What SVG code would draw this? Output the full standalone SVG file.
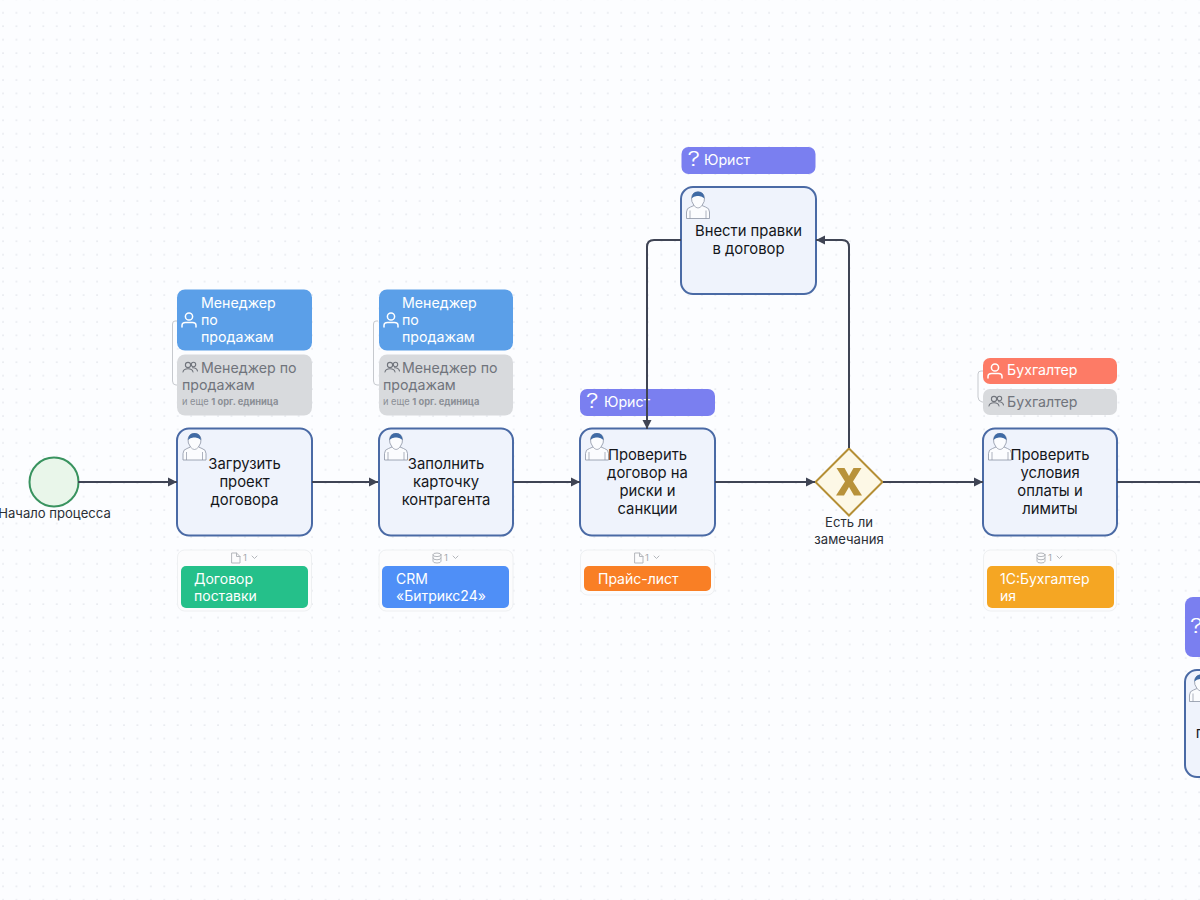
<svg xmlns="http://www.w3.org/2000/svg" width="1200" height="900" viewBox="0 0 1200 900">
<style>
text{font-family:Inter,"Noto Sans","Liberation Sans",sans-serif}
.task{fill:#eff3fc;stroke:#4a6aa5;stroke-width:2}
.lbl{font-size:14.8px;fill:#14161a;text-anchor:middle}
.small{font-size:13.1px;fill:#2b2f36;text-anchor:middle}
.role{font-size:14.2px;fill:#fff}
.grey{font-size:14.2px;fill:#70747c}
.tiny{font-size:9.3px;fill:#8b8f96}
.count{font-size:9.5px;fill:#a4a8ae}
.doc{font-size:14px;fill:#fff}
.line{fill:none;stroke:#3f4454;stroke-width:2;stroke-linejoin:round}
.link{fill:none;stroke:#c6c9ce;stroke-width:1}
.card{fill:#fcfcfd;stroke:#eef0f2;stroke-width:1}
.ico{fill:none;stroke:#fff;stroke-width:1.5;stroke-linecap:round}
.gico{fill:none;stroke:#70747c;stroke-width:1.1;stroke-linecap:round}
.cico{fill:none;stroke:#b4b7bc;stroke-width:1;stroke-linecap:round}
</style>
<defs>
<pattern id="dots" x="2" y="-1.700" width="13.44" height="13.44" patternUnits="userSpaceOnUse"><circle cx="1" cy="1" r="0.8" fill="#dfe2e8"/></pattern>
<marker id="arr" markerUnits="userSpaceOnUse" markerWidth="11" markerHeight="11" refX="10" refY="5.500" orient="auto"><path d="M1 1L10 5.500L1 10Z" fill="#3f4454"/></marker>
<g id="perf">
<path d="M0.500 27V20.500Q0.500 16.500 4.500 15.500L8 14Q5 10 5.500 6Q6.500 0.500 12 0.500Q17.500 0.500 18.500 6Q19 10 16 14L19.500 15.500Q23.500 16.500 23.500 20.500V27Z" fill="#fbfcfe" stroke="#8c93a3" stroke-width="0.8"/>
<path d="M5.500 7Q6 0 12 0Q18 0 18.500 7Q15.500 4 12 4.500Q8 4 5.500 7Z" fill="#3f6aa5"/>
<path d="M8 14Q12 19 16 14M4 19V27M20 19V27" fill="none" stroke="#8c93a3" stroke-width="0.7"/>
</g>
<g id="user" class="ico"><circle cx="8" cy="4.500" r="3.600"/><path d="M1 15V13.500Q1 10.500 4.500 10.500H11.500Q15 10.500 15 13.500V15"/></g>
<g id="users" class="gico"><circle cx="6" cy="4" r="2.600"/><circle cx="11.500" cy="3.500" r="2.200"/><path d="M1 11Q1.500 7.800 6 7.800Q10.500 7.800 11 11M10.500 6.800Q14.500 6.500 15.500 10"/></g>
<g id="q"><text transform="scale(1.25 1)" x="0" y="0" font-size="20" fill="#fff" font-weight="300">?</text></g>
<g id="filei" class="cico"><path d="M0 0H4.500L8 3.500V10H0ZM4.500 0V3.500H8"/></g>
<g id="dbi" class="cico"><ellipse cx="4" cy="1.800" rx="4" ry="1.800"/><path d="M0 1.800V8.200Q0 10 4 10Q8 10 8 8.200V1.800M0 5Q0 6.800 4 6.800Q8 6.800 8 5"/></g>
</defs>
<rect width="1200" height="900" fill="#fcfdff"/>
<rect width="1200" height="900" fill="url(#dots)"/>

<g id="start">
<circle cx="54" cy="482" r="24.500" fill="#e9f6ea" stroke="#39935f" stroke-width="2"/>
<text class="small" x="54.500" y="518">Начало процесса</text>
</g>

<g id="task-upload">
<path class="link" d="M177 321H175Q172.500 321 172.500 324V381Q172.500 385 176 385H178"/>
<rect x="177" y="289.500" width="135" height="61" rx="8" fill="#5b9fe8"/>
<use href="#user" x="181" y="312"/>
<text class="role" x="201" y="307.500">Менеджер</text><text class="role" x="201" y="324.500">по</text><text class="role" x="201" y="342">продажам</text>
<rect x="177" y="354.500" width="135" height="61" rx="8" fill="#d8dadd"/>
<use href="#users" x="182" y="361"/>
<text class="grey" x="201" y="373">Менеджер по</text><text class="grey" x="182" y="390">продажам</text>
<text class="tiny" x="182" y="405">и еще <tspan font-weight="700">1 орг. единица</tspan></text>
<rect class="task" x="177" y="428.500" width="135" height="107" rx="12"/>
<use href="#perf" x="182.500" y="433"/>
<text class="lbl" x="244.500" y="469">Загрузить</text><text class="lbl" x="244.500" y="487">проект</text><text class="lbl" x="244.500" y="505">договора</text>
<rect class="card" x="177.500" y="550" width="134" height="61" rx="7"/>
<use href="#filei" x="232" y="553"/>
<text class="count" x="243" y="561">1</text><path class="cico" d="M252 556L254.500 558.500L257 556"/>
<rect x="181" y="566" width="127" height="42" rx="5" fill="#25c08a"/>
<text class="doc" x="194" y="584">Договор</text><text class="doc" x="194" y="600.500">поставки</text>
</g>

<g id="task-card">
<path class="link" d="M378 321H376Q373.500 321 373.500 324V381Q373.500 385 377 385H379"/>
<rect x="379" y="289.500" width="134" height="61" rx="8" fill="#5b9fe8"/>
<use href="#user" x="383" y="312"/>
<text class="role" x="402" y="307.500">Менеджер</text><text class="role" x="402" y="324.500">по</text><text class="role" x="402" y="342">продажам</text>
<rect x="379" y="354.500" width="134" height="61" rx="8" fill="#d8dadd"/>
<use href="#users" x="384" y="361"/>
<text class="grey" x="402" y="373">Менеджер по</text><text class="grey" x="383" y="390">продажам</text>
<text class="tiny" x="383" y="405">и еще <tspan font-weight="700">1 орг. единица</tspan></text>
<rect class="task" x="379" y="428.500" width="134" height="107" rx="12"/>
<use href="#perf" x="384" y="433"/>
<text class="lbl" x="446" y="469">Заполнить</text><text class="lbl" x="446" y="487">карточку</text><text class="lbl" x="446" y="505">контрагента</text>
<rect class="card" x="379" y="550" width="134" height="61" rx="7"/>
<use href="#dbi" x="433" y="553"/>
<text class="count" x="444" y="561">1</text><path class="cico" d="M453 556L455.500 558.500L458 556"/>
<rect x="382" y="566" width="127" height="42" rx="5" fill="#4f8ff7"/>
<text class="doc" x="396" y="584">CRM</text><text class="doc" x="396" y="600.500">«Битрикс24»</text>
</g>

<g id="task-check">
<rect x="580" y="389" width="135" height="27" rx="7" fill="#7a7ff0"/>
<use href="#q" x="586" y="408"/>
<text class="role" x="604" y="407">Юрист</text>
<rect class="task" x="580" y="428.500" width="135" height="107" rx="12"/>
<use href="#perf" x="585" y="433"/>
<text class="lbl" x="647.500" y="460">Проверить</text><text class="lbl" x="647.500" y="478">договор на</text><text class="lbl" x="647.500" y="496">риски и</text><text class="lbl" x="647.500" y="514">санкции</text>
<rect class="card" x="580.500" y="550" width="134" height="45" rx="7"/>
<use href="#filei" x="635" y="553"/>
<text class="count" x="645" y="561">1</text><path class="cico" d="M654 556L656.500 558.500L659 556"/>
<rect x="584" y="566" width="127" height="25" rx="5" fill="#f97f25"/>
<text class="doc" x="598" y="584">Прайс-лист</text>
</g>

<g id="task-fix">
<rect x="681.500" y="147" width="134" height="27" rx="7" fill="#7a7ff0"/>
<use href="#q" x="687.500" y="166"/>
<text class="role" x="704" y="165">Юрист</text>
<rect class="task" x="681" y="187" width="135" height="107" rx="12"/>
<use href="#perf" x="686" y="191.500"/>
<text class="lbl" x="748.500" y="236">Внести правки</text><text class="lbl" x="748.500" y="254">в договор</text>
</g>

<g id="gateway">
<path d="M849 448.500L882.500 482L849 515.500L815.500 482Z" fill="#fdf8e6" stroke="#b58f35" stroke-width="2"/>
<path d="M836.500 468H844.500L849 476L853.500 468H861.500L853 481.500L862 495.500H854L849 487L844 495.500H836L845 481.500Z" fill="#b8923a"/>
<text class="small" x="849" y="527">Есть ли</text><text class="small" x="849" y="544">замечания</text>
</g>

<g id="task-limits">
<path class="link" d="M983 371H981Q978 371 978 374V397Q978 401 982 402H984"/>
<rect x="983" y="358" width="134" height="26" rx="7" fill="#fd7b66"/>
<use href="#user" x="987" y="363"/>
<text class="role" x="1007" y="375">Бухгалтер</text>
<rect x="983" y="389" width="134" height="26" rx="7" fill="#d8dadd"/>
<use href="#users" x="988" y="395"/>
<text class="grey" x="1007" y="407">Бухгалтер</text>
<rect class="task" x="983" y="428.500" width="134" height="107" rx="12"/>
<use href="#perf" x="988" y="433"/>
<text class="lbl" x="1050" y="460">Проверить</text><text class="lbl" x="1050" y="478">условия</text><text class="lbl" x="1050" y="496">оплаты и</text><text class="lbl" x="1050" y="514">лимиты</text>
<rect class="card" x="983.500" y="550" width="133" height="61" rx="7"/>
<use href="#dbi" x="1037" y="553"/>
<text class="count" x="1048" y="561">1</text><path class="cico" d="M1057 556L1059.500 558.500L1062 556"/>
<rect x="987" y="566" width="127" height="42" rx="5" fill="#f5a623"/>
<text class="doc" x="1000" y="584">1С:Бухгалтер</text><text class="doc" x="1000" y="600.500">ия</text>
</g>

<g id="task-next">
<rect x="1185" y="597" width="40" height="60" rx="8" fill="#7a7ff0"/>
<use href="#q" x="1190" y="633"/>
<rect class="task" x="1185" y="670" width="40" height="107" rx="12"/>
<use href="#perf" x="1189" y="674.500"/>
<text class="lbl" x="1200" y="738">п</text>
</g>

<g id="connectors">
<path class="line" d="M78 482H177" marker-end="url(#arr)"/>
<path class="line" d="M312 482H378" marker-end="url(#arr)"/>
<path class="line" d="M513 482H580" marker-end="url(#arr)"/>
<path class="line" d="M715 482H815" marker-end="url(#arr)"/>
<path class="line" d="M883 482H983" marker-end="url(#arr)"/>
<path class="line" d="M1117 482H1200"/>
<path class="line" d="M849 448V247Q849 240 842 240H816" marker-end="url(#arr)"/>
<path class="line" d="M681 240H654Q647 240 647 247V429" marker-end="url(#arr)"/>
</g>
</svg>
